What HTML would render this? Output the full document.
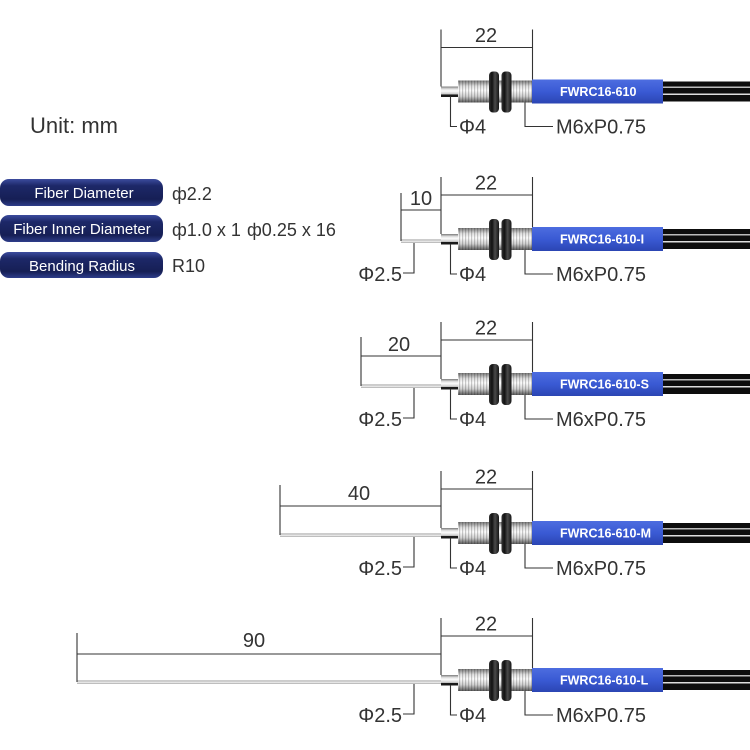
<!DOCTYPE html>
<html><head><meta charset="utf-8"><style>
html,body{margin:0;padding:0;background:#fff;}
svg{display:block;}
text{font-family:"Liberation Sans",sans-serif;}
</style></head><body>
<svg width="750" height="750" viewBox="0 0 750 750" xmlns="http://www.w3.org/2000/svg">
<defs>
<linearGradient id="cyl" x1="0" y1="0" x2="0" y2="1">
<stop offset="0" stop-color="#7a7a7a"/><stop offset=".25" stop-color="#e0e0e0"/><stop offset=".45" stop-color="#fcfcfc"/><stop offset=".72" stop-color="#d0d0d0"/><stop offset="1" stop-color="#5a5a5a"/>
</linearGradient>
<pattern id="thr" width="3" height="40" patternUnits="userSpaceOnUse"><rect x="0" y="0" width="1.2" height="40" fill="#000" opacity=".2"/></pattern>
<linearGradient id="nut" x1="0" y1="0" x2="1" y2="0">
<stop offset="0" stop-color="#333"/><stop offset=".3" stop-color="#111"/><stop offset=".6" stop-color="#4a4a4a"/><stop offset="1" stop-color="#161616"/>
</linearGradient>
<linearGradient id="blue" x1="0" y1="0" x2="0" y2="1">
<stop offset="0" stop-color="#4d6de0"/><stop offset=".5" stop-color="#3a5ad4"/><stop offset="1" stop-color="#2b45b3"/>
</linearGradient>
<linearGradient id="fib" x1="0" y1="0" x2="0" y2="1">
<stop offset="0" stop-color="#888"/><stop offset=".45" stop-color="#f6f6f6"/><stop offset="1" stop-color="#aaa"/>
</linearGradient>
<linearGradient id="badge" x1="0" y1="0" x2="0" y2="1">
<stop offset="0" stop-color="#3c4c9e"/><stop offset=".25" stop-color="#1d2868"/><stop offset=".75" stop-color="#161f55"/><stop offset="1" stop-color="#2e3d8a"/>
</linearGradient>
<g id="conn">
<rect x="441" y="-5" width="18" height="10" fill="url(#cyl)"/>
<rect x="441" y="3" width="18" height="2.5" fill="#1a1a1a"/>
<rect x="458" y="-11" width="75" height="22" fill="url(#cyl)"/>
<rect x="458" y="-11" width="75" height="22" fill="url(#thr)"/>
<rect x="489" y="-20" width="10" height="41" rx="4" fill="url(#nut)"/>
<rect x="501.5" y="-20" width="10" height="41" rx="4" fill="url(#nut)"/>
<rect x="532" y="-12" width="131" height="24" fill="url(#blue)"/>
<rect x="663" y="-10" width="87" height="20" fill="#0d0d0d"/>
<rect x="663" y="-5" width="87" height="1.5" fill="#bbb"/>
<rect x="663" y="2" width="87" height="1.5" fill="#ddd"/>
<g stroke="#333" stroke-width="1.1" fill="none">
<line x1="441" y1="-62" x2="441" y2="-5"/>
<line x1="532.5" y1="-62" x2="532.5" y2="-12"/>
<line x1="441" y1="-44" x2="532.5" y2="-44"/>
<polyline points="450.5,5 450.5,35 457,35"/>
<polyline points="525,11 525,35 553,35"/>
</g>
</g>
</defs>

<!-- left panel -->
<text x="30" y="133" font-size="22" fill="#333">Unit: mm</text>
<rect x="0" y="179" width="163" height="27" rx="9" fill="url(#badge)"/>
<rect x="0" y="215" width="163" height="27" rx="9" fill="url(#badge)"/>
<rect x="0" y="252" width="163" height="26" rx="9" fill="url(#badge)"/>
<text x="84" y="198" font-size="15" fill="#fff" text-anchor="middle">Fiber Diameter</text>
<text x="82" y="234" font-size="15" fill="#fff" text-anchor="middle">Fiber Inner Diameter</text>
<text x="82" y="271" font-size="15" fill="#fff" text-anchor="middle">Bending Radius</text>
<text x="172" y="200" font-size="18" fill="#333">ф2.2</text>
<text x="172" y="236" font-size="18" fill="#333">ф1.0 x 1</text>
<text x="247" y="236" font-size="18" fill="#333">ф0.25 x 16</text>
<text x="172" y="272" font-size="18" fill="#333">R10</text>

<!-- Row 1 c=91.5 -->
<use href="#conn" transform="translate(0,91.5)"/>
<text x="486" y="42" font-size="20" fill="#333" text-anchor="middle">22</text>
<text x="459" y="133.5" font-size="20" fill="#333">Φ4</text>
<text x="556" y="133.5" font-size="20" fill="#333">M6xP0.75</text>
<text x="560" y="96" font-size="12.5" font-weight="bold" fill="#fff">FWRC16-610</text>

<!-- Row 2 c=239 -->
<rect x="401" y="239.5" width="40" height="3.5" fill="url(#fib)"/>
<use href="#conn" transform="translate(0,239)"/>
<g stroke="#333" stroke-width="1.1" fill="none">
<line x1="401" y1="193" x2="401" y2="241"/>
<line x1="401" y1="210" x2="441" y2="210"/>
<polyline points="414,243 414,273 403,273"/>
</g>
<text x="486" y="189.5" font-size="20" fill="#333" text-anchor="middle">22</text>
<text x="421" y="205" font-size="20" fill="#333" text-anchor="middle">10</text>
<text x="402" y="281" font-size="20" fill="#333" text-anchor="end">Φ2.5</text>
<text x="459" y="281" font-size="20" fill="#333">Φ4</text>
<text x="556" y="281" font-size="20" fill="#333">M6xP0.75</text>
<text x="560" y="243.5" font-size="12.5" font-weight="bold" fill="#fff">FWRC16-610-I</text>

<!-- Row 3 c=384 -->
<rect x="361" y="384.5" width="80" height="3.5" fill="url(#fib)"/>
<use href="#conn" transform="translate(0,384)"/>
<g stroke="#333" stroke-width="1.1" fill="none">
<line x1="361" y1="337" x2="361" y2="386"/>
<line x1="361" y1="356" x2="441" y2="356"/>
<polyline points="414,388 414,418 403,418"/>
</g>
<text x="486" y="334.5" font-size="20" fill="#333" text-anchor="middle">22</text>
<text x="399" y="351" font-size="20" fill="#333" text-anchor="middle">20</text>
<text x="402" y="426" font-size="20" fill="#333" text-anchor="end">Φ2.5</text>
<text x="459" y="426" font-size="20" fill="#333">Φ4</text>
<text x="556" y="426" font-size="20" fill="#333">M6xP0.75</text>
<text x="560" y="388.5" font-size="12.5" font-weight="bold" fill="#fff">FWRC16-610-S</text>

<!-- Row 4 c=533 -->
<rect x="280" y="533.5" width="161" height="3.5" fill="url(#fib)"/>
<use href="#conn" transform="translate(0,533)"/>
<g stroke="#333" stroke-width="1.1" fill="none">
<line x1="280" y1="485" x2="280" y2="535"/>
<line x1="280" y1="506" x2="441" y2="506"/>
<polyline points="414,537 414,567 403,567"/>
</g>
<text x="486" y="483.5" font-size="20" fill="#333" text-anchor="middle">22</text>
<text x="359" y="500" font-size="20" fill="#333" text-anchor="middle">40</text>
<text x="402" y="575" font-size="20" fill="#333" text-anchor="end">Φ2.5</text>
<text x="459" y="575" font-size="20" fill="#333">Φ4</text>
<text x="556" y="575" font-size="20" fill="#333">M6xP0.75</text>
<text x="560" y="537.5" font-size="12.5" font-weight="bold" fill="#fff">FWRC16-610-M</text>

<!-- Row 5 c=680 -->
<rect x="77" y="680.5" width="364" height="3.5" fill="url(#fib)"/>
<use href="#conn" transform="translate(0,680)"/>
<g stroke="#333" stroke-width="1.1" fill="none">
<line x1="77" y1="633" x2="77" y2="682"/>
<line x1="77" y1="654" x2="441" y2="654"/>
<polyline points="414,684 414,714 403,714"/>
</g>
<text x="486" y="630.5" font-size="20" fill="#333" text-anchor="middle">22</text>
<text x="254" y="647" font-size="20" fill="#333" text-anchor="middle">90</text>
<text x="402" y="722" font-size="20" fill="#333" text-anchor="end">Φ2.5</text>
<text x="459" y="722" font-size="20" fill="#333">Φ4</text>
<text x="556" y="722" font-size="20" fill="#333">M6xP0.75</text>
<text x="560" y="684.5" font-size="12.5" font-weight="bold" fill="#fff">FWRC16-610-L</text>
</svg>
</body></html>
